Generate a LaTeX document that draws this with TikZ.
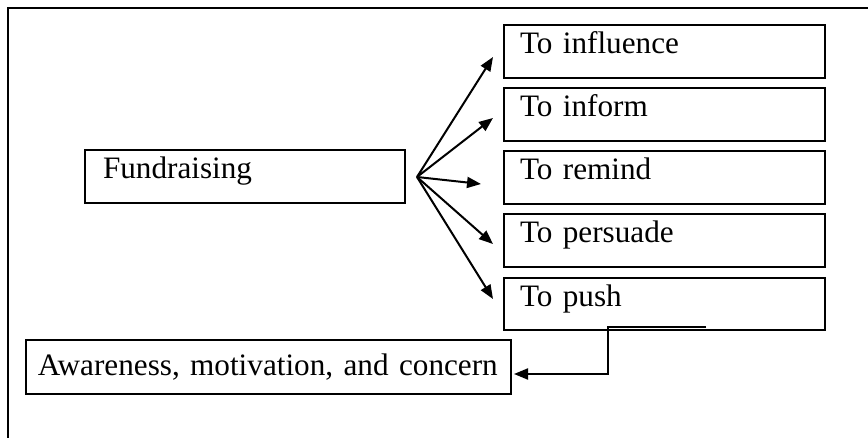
\documentclass[tikz,border=0pt]{standalone}
\usepackage{fontspec}
\setmainfont{Liberation Serif}
\usetikzlibrary{arrows.meta,calc}

\newlength{\du}
\setlength{\du}{0.5pt}

\tikzset{
  textbox/.style={draw, line width=2\du, anchor=north west, align=left,
    inner ysep=0pt, text height=29\du, text depth=24\du,
    font=\fontsize{15.6}{18}\selectfont},
  goalbox/.style={textbox, text width=289\du, inner xsep=16\du},
  fanarrow/.style={line width=2\du, -{Triangle[length=7pt,width=5.5pt]}},
}

\begin{document}
\begin{tikzpicture}[yscale=-1, x=\du, y=\du]
\useasboundingbox (0,0) rectangle (868,438);
% frame
\draw[line width=2\du] (8,438) -- (8,8) -- (868,8);
% boxes
\node[textbox, text width=284\du, inner xsep=18\du] (fund) at (84,149) {Fundraising};
\node[goalbox] (infl) at (503,24) {To influence};
\node[goalbox] (info) at (503,87) {To inform};
\node[goalbox] (remi) at (503,150) {To remind};
\node[goalbox] (pers) at (503,213) {To persuade};
\node[goalbox, text depth=23\du] (push) at (503,277) {To push};
\node[textbox, text width=461\du, inner xsep=12\du, text height=36\du, text depth=18\du] (aware) at (25,339) {Awareness, motivation, and concern};
% fan of arrows
\coordinate (hub) at (417,177);
\foreach \name/\tx/\ty in {t1/493/57, t2/493/118, t3/481/184, t4/493/244, t5/493/299}{
  \coordinate (\name) at (\tx,\ty);
  \draw[fanarrow] (hub) -- (\name);
}
% elbow back to the awareness box
\coordinate (pushtap) at (706,327);
\coordinate (bend) at (608,327);
\draw[fanarrow, shorten >=2\du] (pushtap) -- (bend) |- ($(aware.east)+(0,7)$);
\end{tikzpicture}
\end{document}
